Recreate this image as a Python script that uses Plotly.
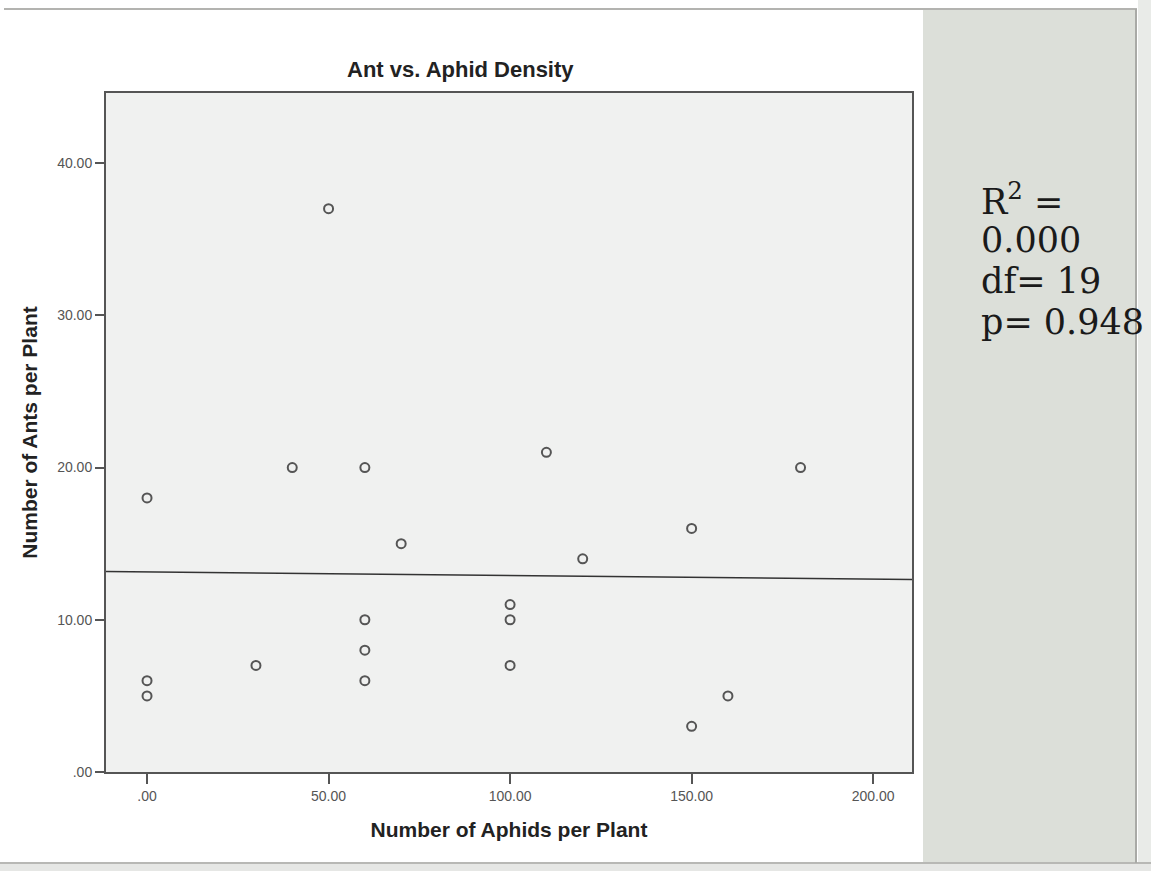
import numpy as np
import plotly.graph_objects as go

# Data
aphids = [0, 0, 0, 30, 40, 50, 60, 60, 60, 60, 70, 100, 100, 100, 110, 120, 150, 150, 160, 180]
ants = [18, 6, 5, 7, 20, 37, 20, 10, 8, 6, 15, 11, 10, 7, 21, 14, 16, 3, 5, 20]

x_ticks = [0, 50, 100, 150, 200]
x_ticktext = [".00", "50.00", "100.00", "150.00", "200.00"]
y_ticks = [0, 10, 20, 30, 40]
y_ticktext = [".00", "10.00", "20.00", "30.00", "40.00"]

stats_lines = ["R<sup>2</sup> =", "0.000", "df= 19", "p= 0.948"]

W, H = 1151, 871
L, R, T, B = 106, 912, 93, 772
x_range = [-11.3, 210.7]
y_range = [0, 44.6]

def px(xpix):
    return (xpix - L) / (R - L)

def py(ypix):
    return (B - ypix) / (B - T)

slope, intercept = np.polyfit(aphids, ants, 1)
fit_x = np.array(x_range)
fit_y = slope * fit_x + intercept

fig = go.Figure()
fig.add_trace(go.Scatter(
    x=aphids, y=ants, mode="markers",
    marker=dict(symbol="circle-open", size=9, color="#555555", line=dict(width=2, color="#555555")),
    showlegend=False, hoverinfo="x+y"))
fig.add_trace(go.Scatter(
    x=fit_x, y=fit_y, mode="lines",
    line=dict(color="#333333", width=1.5), showlegend=False, hoverinfo="skip"))

shapes = [
    # grey side panel
    dict(type="rect", xref="paper", yref="paper", x0=px(923), x1=px(1136), y0=py(863), y1=py(8),
         fillcolor="#dcdfd9", line=dict(width=0), layer="below"),
    # far-right strip
    dict(type="rect", xref="paper", yref="paper", x0=px(1138), x1=px(1152), y0=py(871), y1=py(0),
         fillcolor="#e9ebe8", line=dict(width=0), layer="below"),
    # bottom strip
    dict(type="rect", xref="paper", yref="paper", x0=px(0), x1=px(1152), y0=py(872), y1=py(864),
         fillcolor="#e6e7e5", line=dict(width=0), layer="below"),
    # top frame line
    dict(type="line", xref="paper", yref="paper", x0=px(4), x1=px(1137), y0=py(9), y1=py(9),
         line=dict(color="#b3b3b0", width=2)),
    # bottom frame line
    dict(type="line", xref="paper", yref="paper", x0=px(0), x1=px(1151), y0=py(863), y1=py(863),
         line=dict(color="#b8b8b5", width=2)),
    # right frame line
    dict(type="line", xref="paper", yref="paper", x0=px(1136), x1=px(1136), y0=py(9), y1=py(863),
         line=dict(color="#a9aaa6", width=2)),
]

annotations = [
    dict(text="Ant vs. Aphid Density", xref="paper", yref="paper", x=px(460), y=py(70),
         xanchor="center", yanchor="middle", showarrow=False,
         font=dict(family="Liberation Sans, Arial, sans-serif", size=22, color="#222222", weight="bold")),
]
for i, t in enumerate(stats_lines):
    annotations.append(dict(text=t, xref="paper", yref="paper", x=px(979), y=py(199 + 41 * i),
                            xanchor="left", yanchor="middle", showarrow=False,
                            font=dict(family="DejaVu Serif, serif", size=35, color="#1a1a1a")))

fig.update_layout(
    width=W, height=H, autosize=False,
    margin=dict(l=L, r=W - R, t=T, b=H - B, pad=0),
    paper_bgcolor="white", plot_bgcolor="#f0f1f0",
    shapes=shapes, annotations=annotations,
    xaxis=dict(range=x_range, tickvals=x_ticks, ticktext=x_ticktext, ticks="outside", ticklen=10,
               tickwidth=2, tickcolor="#555555", showline=True, linecolor="#555555", linewidth=2,
               mirror=True, showgrid=False, zeroline=False,
               tickfont=dict(family="Liberation Sans Narrow, Liberation Sans, Arial", size=14, color="#555555"),
               title=dict(text="Number of Aphids per Plant", standoff=20,
                          font=dict(family="Liberation Sans, Arial, sans-serif", size=21, color="#222222", weight="bold"))),
    yaxis=dict(range=y_range, tickvals=y_ticks, ticktext=y_ticktext, ticks="outside", ticklen=9,
               tickwidth=2, tickcolor="#555555", showline=True, linecolor="#555555", linewidth=2,
               mirror=True, showgrid=False, zeroline=False,
               tickfont=dict(family="Liberation Sans, Arial", size=14, color="#555555"),
               title=dict(text="Number of Ants per Plant", standoff=14,
                          font=dict(family="Liberation Sans, Arial, sans-serif", size=21, color="#222222", weight="bold"))),
)

fig.write_html("out.html", config={"displayModeBar": False},
               post_script="document.body.style.margin='0';")
